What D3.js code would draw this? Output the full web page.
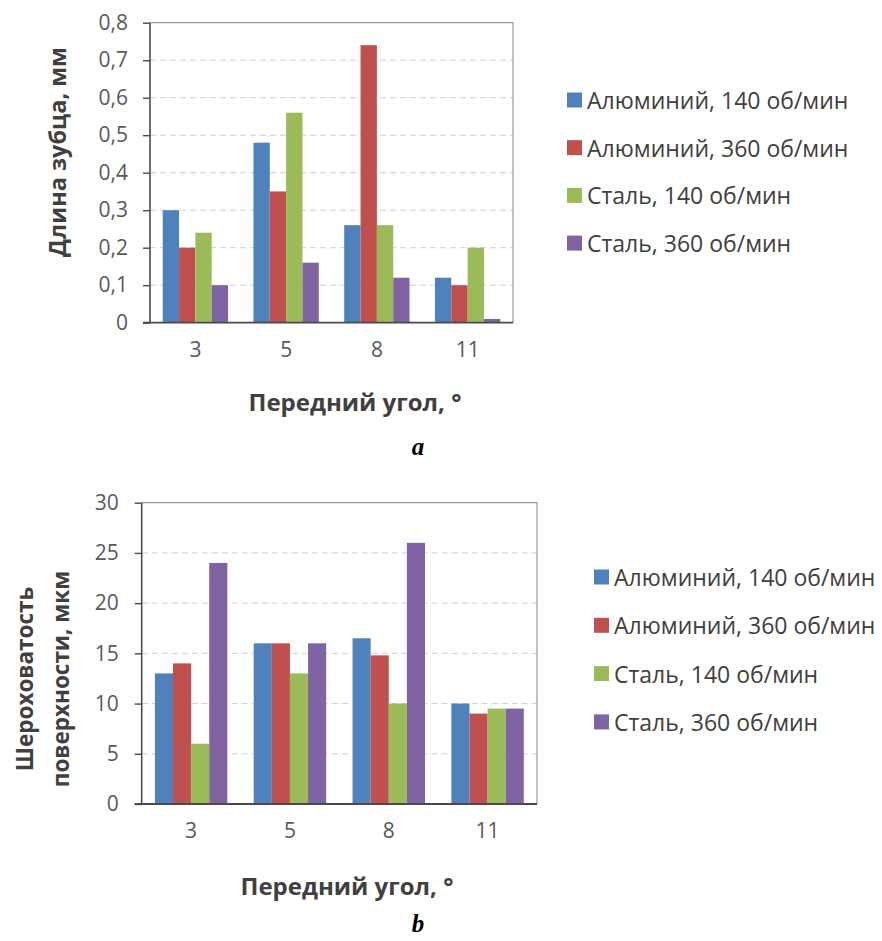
<!DOCTYPE html>
<html>
<head>
<meta charset="utf-8">
<script src="https://cdn.jsdelivr.net/npm/d3@7"></script>
<style>
  html, body { margin: 0; padding: 0; background: #fff; }
  svg { display: block; }
  text { font-family: "Open Sans", sans-serif; }
</style>
</head>
<body>
<svg id="fig" width="882" height="941"></svg>
<script>
// Rake angle categories (degrees)
const categories = ["3", "5", "8", "11"];
const seriesNames = [
  "Алюминий, 140 об/мин",
  "Алюминий, 360 об/мин",
  "Сталь, 140 об/мин",
  "Сталь, 360 об/мин"
];
const seriesColors = ["#4F81BD", "#C0504D", "#9BBB59", "#8064A2"];

// Panel a: chip tooth length, mm
const toothAlu140 = [0.30, 0.48, 0.26, 0.12];
const toothAlu360 = [0.20, 0.35, 0.74, 0.10];
const toothSteel140 = [0.24, 0.56, 0.26, 0.20];
const toothSteel360 = [0.10, 0.16, 0.12, 0.01];
const toothTicks = [0, 0.1, 0.2, 0.3, 0.4, 0.5, 0.6, 0.7, 0.8];

// Panel b: surface roughness, µm
const roughAlu140 = [13, 16, 16.5, 10];
const roughAlu360 = [14, 16, 14.8, 9];
const roughSteel140 = [6, 13, 10, 9.5];
const roughSteel360 = [24, 16, 26, 9.5];
const roughTicks = [0, 5, 10, 15, 20, 25, 30];

const svg = d3.select("#fig");

function drawPanel(cfg) {
  const g = svg.append("g");
  const series = cfg.series;

  const x = d3.scaleBand()
    .domain(categories)
    .range([cfg.left, cfg.right])
    .paddingInner(cfg.pad)
    .paddingOuter(cfg.pad / 2);
  const xs = d3.scaleBand()
    .domain(d3.range(series.length))
    .range([0, x.bandwidth()]);
  const y = d3.scaleLinear()
    .domain([0, d3.max(cfg.ticks)])
    .range([cfg.bottom, cfg.top]);

  // dashed horizontal gridlines
  g.append("g")
    .selectAll("line")
    .data(cfg.ticks.filter(t => t > 0 && t < d3.max(cfg.ticks)))
    .join("line")
    .attr("x1", cfg.left).attr("x2", cfg.right)
    .attr("y1", d => y(d)).attr("y2", d => y(d))
    .attr("stroke", "#D0D0D0")
    .attr("stroke-width", 1)
    .attr("stroke-dasharray", "6,4");

  // plot frame (top and right)
  g.append("path")
    .attr("d", `M${cfg.left},${cfg.top}H${cfg.right}V${cfg.bottom}`)
    .attr("fill", "none")
    .attr("stroke", "#9A9A9A")
    .attr("stroke-width", 1.2);

  // bars
  const groups = g.append("g")
    .selectAll("g")
    .data(categories)
    .join("g")
    .attr("transform", d => `translate(${x(d)},0)`);
  groups.selectAll("rect")
    .data((d, ci) => series.map((s, si) => ({ si, v: s[ci] })))
    .join("rect")
    .attr("x", d => xs(d.si))
    .attr("width", xs.bandwidth())
    .attr("y", d => y(d.v))
    .attr("height", d => y(0) - y(d.v))
    .attr("fill", d => seriesColors[d.si]);

  // y axis
  const yAxis = d3.axisLeft(y)
    .tickValues(cfg.ticks)
    .tickSize(7)
    .tickPadding(cfg.tickPad)
    .tickFormat(cfg.fmt);
  const ya = g.append("g")
    .attr("transform", `translate(${cfg.left},0)`)
    .call(yAxis);
  ya.select(".domain").attr("stroke", "#4A4A4A").attr("stroke-width", 1.6)
    .attr("d", `M0,${cfg.top}V${cfg.bottom}`);
  ya.selectAll(".tick line").attr("stroke", "#4A4A4A").attr("stroke-width", 1.4);
  ya.selectAll(".tick text")
    .attr("fill", "#595959")
    .style("font-size", "21px")
    .style("font-family", "'Open Sans', sans-serif");

  // x axis
  const xAxis = d3.axisBottom(x).tickSize(0).tickPadding(cfg.xPad);
  const xa = g.append("g")
    .attr("transform", `translate(0,${cfg.bottom})`)
    .call(xAxis);
  xa.select(".domain").attr("stroke", "#4A4A4A").attr("stroke-width", 1.8)
    .attr("d", `M${cfg.left - 7},0H${cfg.right}`);
  xa.selectAll(".tick text")
    .attr("fill", "#595959")
    .style("font-size", "21px")
    .style("font-family", "'Open Sans', sans-serif");

  // axis titles
  g.append("text")
    .attr("x", cfg.xTitleX).attr("y", cfg.xTitleY)
    .attr("text-anchor", "middle")
    .attr("fill", "#404040")
    .style("font-size", "24px").style("font-weight", "bold")
    .text("Передний угол, °");

  cfg.yTitle.forEach((line, i) => {
    g.append("text")
      .attr("transform", `translate(${cfg.yTitleX[i]},${cfg.yTitleY}) rotate(-90)`)
      .attr("text-anchor", "middle")
      .attr("dominant-baseline", "central")
      .attr("fill", "#404040")
      .style("font-size", cfg.yTitleSize).style("font-weight", "bold")
      .text(line);
  });

  // panel letter
  g.append("text")
    .attr("x", 418).attr("y", cfg.letterY)
    .attr("text-anchor", "middle")
    .attr("fill", "#000")
    .style("font-family", "'Liberation Serif', serif")
    .style("font-size", "25px").style("font-weight", "bold").style("font-style", "italic")
    .text(cfg.letter);

  // legend
  const leg = g.append("g")
    .selectAll("g")
    .data(seriesNames)
    .join("g")
    .attr("transform", (d, i) => `translate(${cfg.legX},${cfg.legY + i * cfg.legStep})`);
  leg.append("rect")
    .attr("x", 0).attr("y", -7.5)
    .attr("width", 15).attr("height", 15)
    .attr("fill", (d, i) => seriesColors[i]);
  leg.append("text")
    .attr("x", 20).attr("y", 0)
    .attr("dominant-baseline", "central")
    .attr("fill", "#404040")
    .style("font-size", "23px")
    .text(d => d);
}

const commaFmt = d => d === 0 ? "0" : d3.format(".1f")(d).replace(".", ",");

drawPanel({
  series: [toothAlu140, toothAlu360, toothSteel140, toothSteel360],
  ticks: toothTicks,
  fmt: commaFmt,
  left: 150, right: 513, top: 22.7, bottom: 322.7, pad: 0.28,
  tickPad: 15, xPad: 19,
  xTitleX: 355, xTitleY: 411,
  yTitle: ["Длина зубца, мм"], yTitleX: [57], yTitleY: 152, yTitleSize: "23.5px",
  letter: "a", letterY: 455,
  legX: 567, legY: 100, legStep: 47.7
});

drawPanel({
  series: [roughAlu140, roughAlu360, roughSteel140, roughSteel360],
  ticks: roughTicks,
  fmt: d3.format("d"),
  left: 141.7, right: 537, top: 502.7, bottom: 804, pad: 0.267,
  tickPad: 16, xPad: 19,
  xTitleX: 347, xTitleY: 895,
  yTitle: ["Шероховатость", "поверхности, мкм"], yTitleX: [24, 60], yTitleY: 679, yTitleSize: "22.5px",
  letter: "b", letterY: 932,
  legX: 594, legY: 577, legStep: 48.3
});
</script>
</body>
</html>
